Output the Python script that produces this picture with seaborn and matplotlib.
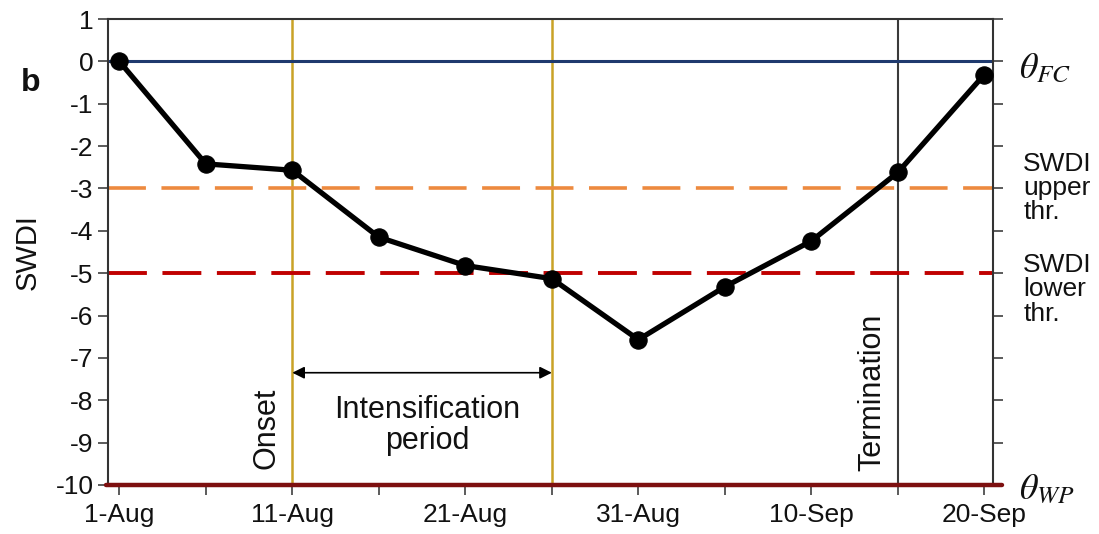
import matplotlib
matplotlib.use("Agg")
import matplotlib.pyplot as plt
import seaborn as sns
import pandas as pd

# Soil water deficit index sampled every 5 days from 1 August
days = [0, 5, 10, 15, 20, 25, 30, 35, 40, 45, 50]
swdi = [0.0, -2.42, -2.57, -4.15, -4.82, -5.13, -6.57, -5.32, -4.24, -2.62, -0.31]

tick_days = [0, 10, 20, 30, 40, 50]
tick_labels = ["1-Aug", "11-Aug", "21-Aug", "31-Aug", "10-Sep", "20-Sep"]
minor_days = [5, 15, 25, 35, 45]

fc_level = 0
upper_thr = -3
lower_thr = -5
wp_level = -10

onset_day = 10
intens_end_day = 25
termination_day = 45

sns.set_style("ticks")
plt.rcParams["font.family"] = ["Liberation Sans", "DejaVu Sans"]
plt.rcParams["mathtext.fontset"] = "stix"
plt.rcParams["axes.unicode_minus"] = False
plt.rcParams["text.color"] = "#111111"

fig = plt.figure(figsize=(10.99, 5.34), dpi=100)
ax = fig.add_axes([0.0983, 0.0918, 0.9036 - 0.0983, 0.9644 - 0.0918])

# reference levels
ax.axhline(fc_level, color="#1f3a6e", lw=2.2, zorder=2)
ax.axhline(upper_thr, color="#ed8a3f", lw=2.6, dashes=(10.5, 4.3), zorder=2)
ax.axhline(lower_thr, color="#c00000", lw=2.8, dashes=(10, 4), zorder=2)
ax.axhline(wp_level, xmin=-0.002, xmax=1.01, color="#7d1010", lw=3.2,
           zorder=4, clip_on=False)

# event markers
ax.axvline(onset_day, color="#c9a227", lw=1.8, zorder=1)
ax.axvline(intens_end_day, color="#c9a227", lw=1.8, zorder=1)
ax.axvline(termination_day, color="#3a3a3a", lw=1.5, zorder=1)

df = pd.DataFrame({"day": days, "SWDI": swdi})
sns.lineplot(data=df, x="day", y="SWDI", ax=ax, color="black", lw=3.8,
             marker="o", markersize=12.5, markeredgecolor="black", zorder=5)

ax.set_xlim(-0.65, 50.5)
ax.set_ylim(-10, 1)
ax.set_yticks(range(-10, 2))
ax.set_xticks(tick_days)
ax.set_xticklabels(tick_labels)
ax.set_xticks(minor_days, minor=True)
ax.tick_params(axis="both", which="both", direction="out", length=7,
               width=1.2, color="#404040", labelsize=19, labelcolor="#111111",
               right=True)
ax.tick_params(axis="x", which="major", pad=6)
ax.set_xlabel("")
ax.set_ylabel("SWDI", fontsize=21, labelpad=10, color="#111111")
for s in ax.spines.values():
    s.set_color("#333333")
    s.set_linewidth(1.5)

# intensification period arrow
ax.annotate("", xy=(onset_day, -7.35), xytext=(intens_end_day, -7.35),
            arrowprops=dict(arrowstyle="<|-|>", color="black", lw=1.2,
                            mutation_scale=18, shrinkA=0, shrinkB=0))
ax.text(17.8, -8.6, "Intensification\nperiod", ha="center", va="center",
        fontsize=22, linespacing=1.05)
ax.text(onset_day - 0.62, -8.66, "Onset", rotation=90, ha="right",
        va="center", fontsize=22)
ax.text(termination_day - 0.62, -7.81, "Termination", rotation=90,
        ha="right", va="center", fontsize=22)

# right-hand annotations
tr = ax.get_yaxis_transform()
ax.text(1.029, fc_level - 0.18, r"$\theta_{FC}$", transform=tr, fontsize=26,
        ha="left", va="center")
ax.text(1.029, wp_level - 0.12, r"$\theta_{WP}$", transform=tr, fontsize=26,
        ha="left", va="center")
ax.text(1.034, upper_thr, "SWDI\nupper\nthr.", transform=tr, fontsize=19,
        ha="left", va="center", linespacing=1.0)
ax.text(1.034, lower_thr - 0.38, "SWDI\nlower\nthr.", transform=tr,
        fontsize=19, ha="left", va="center", linespacing=1.02)

fig.text(0.028, 0.845, "b", fontsize=23, fontweight="bold", ha="center",
         va="center")

fig.savefig("out.png", dpi=100)
